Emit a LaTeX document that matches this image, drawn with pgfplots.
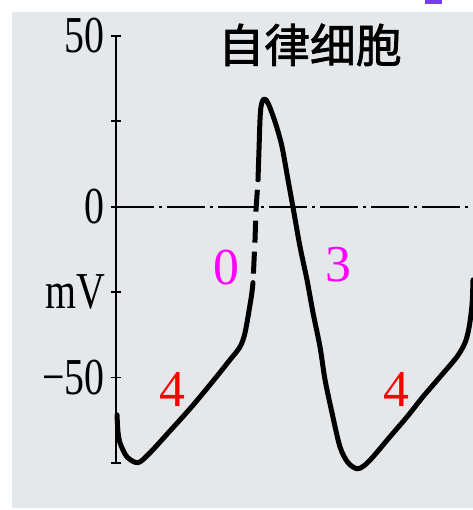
\documentclass[border=0pt]{standalone}
\usepackage{pgfplots}
\pgfplotsset{compat=1.18}
\usepackage{fontspec}
\setmainfont{Liberation Serif}
\newfontfamily\cjk[FakeBold=1.6]{Noto Sans CJK SC}
\definecolor{paper}{HTML}{E5E8EB}
\definecolor{mag}{HTML}{FF00FF}
\definecolor{purp}{HTML}{7A3CF0}
\begin{document}
\begin{tikzpicture}[x=1bp,y=1bp]
\useasboundingbox (-116,-47) rectangle (357,463);
\fill[white] (-116,-47) rectangle (357,463);
\fill[paper] (-104,-45) rectangle (357,451);
\fill[purp] (309,463) rectangle (326,459);
\begin{axis}[at={(0,0)}, anchor=south west, scale only axis,
  width=357bp, height=427bp,
  xmin=0, xmax=357, ymin=-75, ymax=50,
  axis y line=left, axis x line=none,
  y axis line style={-, line width=2.4bp, black},
  ytick={-75,-50,-25,0,25,50},
  yticklabels={{},{\scalebox{1}[1.3]{−50}},{\scalebox{1}[1.3]{mV}},{\scalebox{1}[1.3]{0}},{},{\scalebox{1}[1.3]{50}}},
  tick align=center, major tick length=10bp,
  every tick/.style={line width=1.8bp, black},
  yticklabel style={font=\fontsize{40}{40}\selectfont, inner sep=0pt, xshift=-6bp},
  clip=false]
\draw[line width=2.2bp, dash pattern=on 38bp off 5bp on 3bp off 5bp] (axis cs:0,0) -- (axis cs:357,0);
% phase 4 (first cycle) solid
\addplot[black, line width=5bp, line join=round, line cap=round, smooth] coordinates {
(1,-60.9) (2,-65.9) (4,-69.1) (11,-73.2) (22,-74.9) (34,-72.0) (54,-65.6)
(74,-59.1) (94,-52.1) (114,-44.8) (124,-41.0) (129,-36.9) (134,-28.7) (136,-24.9) (137,-22.2)};
% phase 0 dashed upstroke
\addplot[black, line width=5bp, dash pattern=on 22bp off 9bp, dash phase=22bp] coordinates {
(137,-22.2) (139,-9.7) (140,-0.9) (142,7.9)};
% peak, phase 3, second phase 4
\addplot[black, line width=5bp, line join=round, line cap=round, smooth] coordinates {
(142,7.9) (143,16.7) (144,25.5) (145,29.3) (147,31.3) (150,31.3) (154,29.0)
(160,24.0) (166,17.6) (172,7.9) (178,-1.8) (184,-11.7) (191,-21.4) (197,-31.0)
(204,-41.0) (209,-50.6) (216,-60.3) (224,-70.3) (232,-74.9) (241,-76.7) (248,-75.8)
(257,-73.2) (274,-67.3) (291,-61.5) (307,-55.6) (324,-49.8) (341,-43.9) (349,-39.8)
(353,-35.4) (356,-28.7) (357,-21.4)};
\node[font=\cjk\fontsize{46}{46}\selectfont] at (axis cs:194,47.4) {自律细胞};
\node[text=mag, font=\fontsize{52}{52}\selectfont] at (axis cs:110,-17.9) {0};
\node[text=mag, font=\fontsize{52}{52}\selectfont] at (axis cs:222,-17.0) {3};
\node[text=red, font=\fontsize{52}{52}\selectfont] at (axis cs:56,-53.6) {4};
\node[text=red, font=\fontsize{52}{52}\selectfont] at (axis cs:280,-53.6) {4};
\end{axis}
\end{tikzpicture}
\end{document}
